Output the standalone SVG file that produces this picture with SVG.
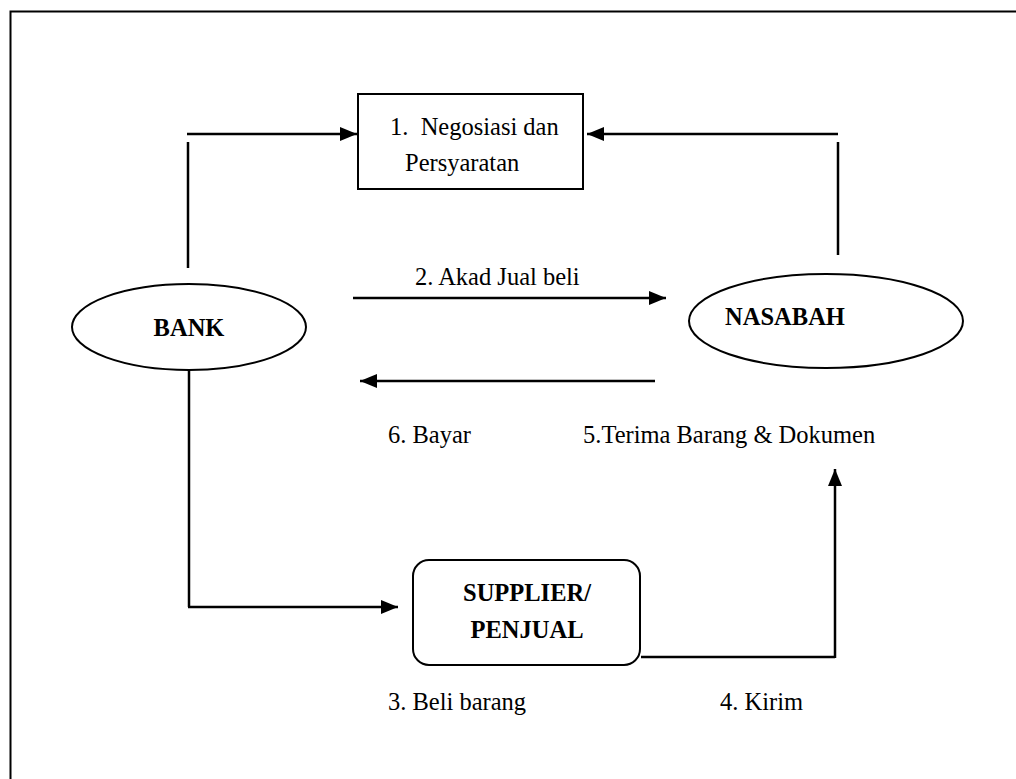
<svg xmlns="http://www.w3.org/2000/svg" width="1016" height="779" viewBox="0 0 1016 779">
<defs>
<style>
.ln{stroke:#000;stroke-width:2.5;fill:none}
.nd{stroke:#000;stroke-width:2;fill:#fff}
.t{font-family:"Liberation Serif","Times New Roman",serif;font-size:24.5px;fill:#000}
.b{font-weight:bold;text-anchor:middle}
</style>
<marker id="ah" viewBox="0 0 17 14" refX="17" refY="7" markerWidth="17" markerHeight="14" markerUnits="userSpaceOnUse" orient="auto">
<path d="M0,0 L17,7 L0,14 Z" fill="#000"/>
</marker>
</defs>
<rect width="1016" height="779" fill="#fff"/>
<rect x="10.5" y="11.5" width="1020" height="790" fill="none" stroke="#000" stroke-width="2"/>
<g id="connectors">
<line class="ln" x1="188" y1="142" x2="188" y2="268"/>
<line class="ln" x1="187" y1="134" x2="357" y2="134" marker-end="url(#ah)"/>
<line class="ln" x1="838" y1="142" x2="838" y2="255"/>
<line class="ln" x1="838" y1="134" x2="587" y2="134" marker-end="url(#ah)"/>
<line class="ln" x1="353" y1="298" x2="666" y2="298" marker-end="url(#ah)"/>
<line class="ln" x1="655" y1="381" x2="360" y2="381" marker-end="url(#ah)"/>
<line class="ln" x1="189" y1="371" x2="189" y2="607"/>
<line class="ln" x1="188" y1="607" x2="398" y2="607" marker-end="url(#ah)"/>
<line class="ln" x1="641" y1="657" x2="835" y2="657"/>
<line class="ln" x1="835" y1="658" x2="835" y2="469" marker-end="url(#ah)"/>
<text class="t" x="415" y="285">2. Akad Jual beli</text>
<text class="t" x="388" y="443">6. Bayar</text>
<text class="t" x="583" y="443">5.Terima Barang &amp; Dokumen</text>
<text class="t" x="388" y="710">3. Beli barang</text>
<text class="t" x="720" y="710">4. Kirim</text>
</g>
<g id="negosiasi">
<rect class="nd" x="358" y="94" width="225" height="95"/>
<text class="t" x="390" y="135" xml:space="preserve">1.  Negosiasi dan</text>
<text class="t" x="405" y="171">Persyaratan</text>
</g>
<g id="bank">
<ellipse class="nd" cx="189" cy="327" rx="117" ry="43"/>
<text class="t b" x="189" y="336">BANK</text>
</g>
<g id="nasabah">
<ellipse class="nd" cx="826" cy="321" rx="137" ry="47"/>
<text class="t b" x="785" y="325">NASABAH</text>
</g>
<g id="supplier">
<rect class="nd" x="413" y="560" width="227" height="105" rx="16"/>
<text class="t b" x="527" y="601">SUPPLIER/</text>
<text class="t b" x="527" y="638">PENJUAL</text>
</g>
</svg>
